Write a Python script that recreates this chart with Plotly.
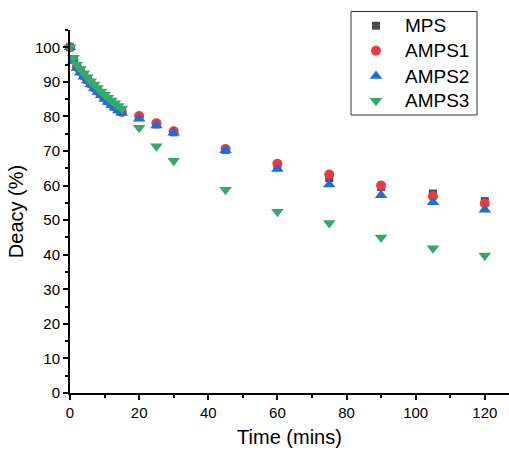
import plotly.graph_objects as go

time = [0, 1, 2, 3, 4, 5, 6, 7, 8, 9, 10, 11, 12, 13, 14, 15,
        20, 25, 30, 45, 60, 75, 90, 105, 120]
mps = [100, 96.5, 94.5, 93.2, 92.0, 90.8, 89.7, 88.6, 87.6, 86.6, 85.6, 84.7, 83.8, 83.0, 82.2, 81.5,
       79.8, 77.7, 75.4, 70.3, 65.8, 62.2, 59.6, 57.7, 55.5]
amps1 = [100, 96.4, 94.3, 93.0, 91.8, 90.6, 89.5, 88.4, 87.4, 86.4, 85.4, 84.5, 83.6, 82.8, 82.0, 81.3,
         80.1, 78.0, 75.7, 70.6, 66.3, 63.2, 60.0, 56.9, 54.8]
amps2 = [100, 96.0, 94.0, 92.7, 91.5, 90.3, 89.2, 88.1, 87.1, 86.1, 85.1, 84.2, 83.3, 82.5, 81.7, 81.0,
         79.3, 77.4, 75.3, 70.2, 64.8, 60.3, 57.2, 55.2, 53.0]
amps3 = [100, 97.0, 95.0, 93.7, 92.5, 91.3, 90.2, 89.2, 88.2, 87.2, 86.3, 85.4, 84.6, 83.8, 83.0, 82.3,
         76.7, 71.4, 67.2, 58.8, 52.4, 49.2, 45.0, 41.9, 39.8]

names = ["MPS", "AMPS1", "AMPS2", "AMPS3"]
values = [mps, amps1, amps2, amps3]
symbols = ["square", "circle", "triangle-up", "triangle-down"]
colors = ["#4d4d4d", "#ee3a3f", "#1a6ede", "#33aa68"]
sizes = [8, 10, 11, 11]

FONT = "Liberation Sans, Arial"

# layout in pixels
W, H = 509, 450
PLOT_L, PLOT_B, PLOT_T = 70, 393, 30
AREA_H = PLOT_B  # overlay area from pixel 0 to PLOT_B

fig = go.Figure()
for name, vals, sym, col, sz in zip(names, values, symbols, colors, sizes):
    fig.add_trace(go.Scatter(
        x=time, y=vals, mode="markers", name=name, cliponaxis=False, showlegend=False,
        marker=dict(symbol=sym, color=col, size=sz, line=dict(width=0)),
    ))

# Custom legend drawn in a separate pixel-coordinate subplot (x2/y2)
leg_x_marker = 376
leg_x_text = 403
leg_y = [25.7, 50.7, 76, 100.7]
fig.add_shape(type="rect", xref="x2", yref="y2", x0=351, x1=477, y0=11.5, y1=115,
              line=dict(color="#333333", width=1), fillcolor="rgba(0,0,0,0)", layer="above")
for name, sym, col, sz, ly in zip(names, symbols, colors, sizes, leg_y):
    fig.add_trace(go.Scatter(
        x=[leg_x_marker], y=[ly], xaxis="x2", yaxis="y2", mode="markers",
        cliponaxis=False, showlegend=False, hoverinfo="skip",
        marker=dict(symbol=sym, color=col, size=sz, line=dict(width=0)),
    ))
    fig.add_annotation(
        x=leg_x_text, y=ly, xref="x2", yref="y2", text=name, showarrow=False,
        xanchor="left", yanchor="middle",
        font=dict(family=FONT, size=19, color="black"),
    )

axis_common = dict(
    showline=True, linecolor="black", linewidth=2, showgrid=False, zeroline=False,
    ticks="outside", ticklen=5, tickwidth=2, tickcolor="black",
    tickfont=dict(family=FONT, size=15, color="black"),
    title_font=dict(family=FONT, size=20, color="black"),
)

fig.update_layout(
    xaxis=dict(
        range=[0, 127], tickmode="linear", tick0=0, dtick=20,
        minor=dict(ticks="outside", ticklen=3, tickwidth=2, tickcolor="black", dtick=10, tick0=0),
        title=dict(text="Time (mins)", standoff=10), **axis_common,
    ),
    yaxis=dict(
        range=[0, 105], tickmode="linear", tick0=0, dtick=10,
        domain=[0, (PLOT_B - PLOT_T) / AREA_H],
        minor=dict(ticks="outside", ticklen=3, tickwidth=2, tickcolor="black", dtick=5, tick0=0),
        title=dict(text="Deacy (%)", standoff=6), **axis_common,
    ),
    xaxis2=dict(anchor="y2", domain=[0, 1], range=[PLOT_L, W], visible=False, fixedrange=True),
    yaxis2=dict(anchor="x2", domain=[0, 1], range=[PLOT_B, 0], visible=False, fixedrange=True),
    width=W, height=H,
    margin=dict(l=PLOT_L, r=0, t=0, b=H - PLOT_B),
    plot_bgcolor="rgba(0,0,0,0)", paper_bgcolor="white",
    showlegend=False,
)

fig.write_html("out.html")
